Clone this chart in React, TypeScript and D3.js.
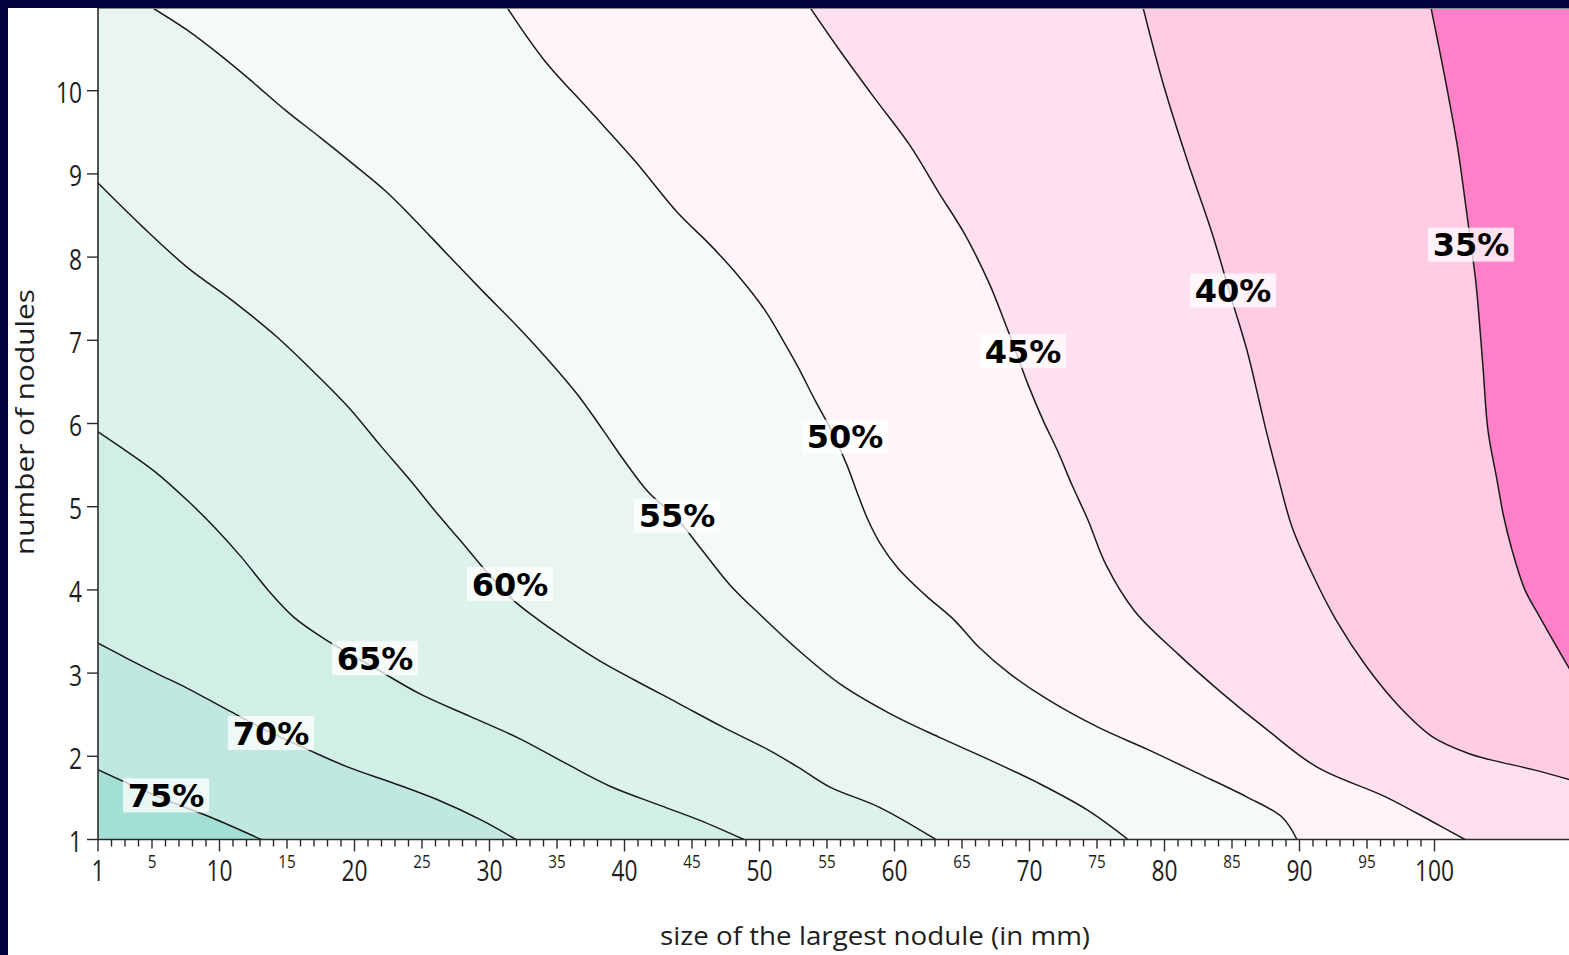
import React from "react";
import * as d3 from "d3";

type Pt = [number, number];

// ---- DATA (x = size of largest nodule in mm, y = number of nodules) ----
const LEVELS = [35, 40, 45, 50, 55, 60, 65, 70, 75];
// band colours: index 0 = below 35%, index i = [LEVELS[i-1], LEVELS[i])
const BAND_COLORS = [
  "#ff82c8", "#ffcce4", "#ffe0ee", "#fff5f9", "#f3faf8",
  "#e8f5f1", "#ddf2ec", "#d1eee7", "#c0e8e0", "#a3dfd4",
];

const iso75: Pt[] = [[1, 1.84], [3, 1.69], [5.96, 1.48], [9.3, 1.27], [13.1, 1]];
const iso70: Pt[] = [[1, 3.36], [3, 3.19], [5.3, 3.0], [7.59, 2.82], [10.56, 2.56], [13.74, 2.29], [16.56, 2.08], [19.52, 1.87], [22.85, 1.68], [26.11, 1.48], [29.44, 1.23], [31.96, 1]];
const iso65: Pt[] = [[1, 5.9], [3, 5.68], [5.3, 5.41], [7.59, 5.08], [9.59, 4.76], [11.59, 4.4], [13.59, 4.0], [15.52, 3.67], [17.89, 3.4], [21.52, 3.06], [24.85, 2.75], [28.56, 2.48], [32.26, 2.21], [35.59, 1.92], [38.93, 1.64], [42.63, 1.41], [45.59, 1.23], [48.85, 1]];
const iso60: Pt[] = [[1, 8.89], [4.33, 8.36], [7.59, 7.88], [10.93, 7.48], [14.26, 7.04], [16.85, 6.64], [19.52, 6.2], [21.89, 5.74], [24.11, 5.32], [26.11, 4.92], [27.81, 4.6], [29.67, 4.24], [31.74, 3.88], [33.37, 3.67], [35.74, 3.4], [38.04, 3.16], [40.7, 2.92], [43.96, 2.64], [47.3, 2.35], [50.63, 2.08], [52.85, 1.87], [55.22, 1.63], [58.85, 1.39], [63.07, 1]];
const iso55: Pt[] = [[5, 11], [7.59, 10.73], [10.26, 10.4], [12.56, 10.09], [14.85, 9.77], [17.52, 9.43], [20.04, 9.1], [22.26, 8.8], [24.26, 8.48], [26.78, 8.05], [29.44, 7.6], [32.11, 7.16], [34.48, 6.74], [36.56, 6.34], [38.41, 5.92], [40.04, 5.54], [41.74, 5.18], [43.81, 4.87], [45.74, 4.48], [47.81, 4.06], [50.19, 3.68], [52.85, 3.28], [55.96, 2.87], [59.59, 2.52], [63.3, 2.23], [67, 1.96], [70.63, 1.68], [74.33, 1.35], [77.3, 1]];
const iso50: Pt[] = [[31.3, 11], [34.04, 10.37], [37.37, 9.77], [40.7, 9.17], [43.96, 8.53], [46.33, 8.15], [48.56, 7.75], [50.41, 7.36], [51.74, 7.0], [52.85, 6.68], [54.11, 6.28], [55.37, 5.9], [56.48, 5.5], [57.3, 5.14], [58.04, 4.84], [58.93, 4.56], [60.26, 4.26], [62.26, 3.94], [64.41, 3.64], [66.26, 3.31], [68.48, 3.0], [71.37, 2.68], [75.07, 2.35], [78.78, 2.08], [82.41, 1.8], [86.11, 1.51], [88.7, 1.27], [89.81, 1]];
const iso45: Pt[] = [[53.74, 11], [55.96, 10.48], [58.48, 9.92], [61.07, 9.36], [63.3, 8.77], [65.15, 8.29], [67, 7.69], [68.04, 7.27], [69.0, 6.86], [69.96, 6.44], [71.0, 6.04], [72.11, 5.66], [73.15, 5.26], [74.33, 4.84], [75.67, 4.3], [77.81, 3.74], [80.93, 3.24], [84.26, 2.76], [87.59, 2.32], [91.3, 1.87], [96.41, 1.51], [99.89, 1.21], [102.26, 1]];
const iso40: Pt[] = [[78.41, 11], [79.89, 10.09], [81.67, 9.17], [83.52, 8.29], [85, 7.48], [86.11, 6.88], [87, 6.28], [87.52, 5.92], [88.33, 5.41], [89.44, 4.76], [90.93, 4.2], [92.7, 3.64], [95.0, 3.07], [97.44, 2.59], [99.89, 2.23], [102.41, 2.04], [104.11, 1.96], [107.3, 1.84], [110, 1.72]];
const iso35: Pt[] = [[99.74, 11], [100.85, 10.09], [101.74, 9.29], [102.33, 8.6], [102.7, 8.15], [103.07, 7.69], [103.59, 6.68], [103.96, 5.92], [104.63, 5.32], [105.1, 4.9], [105.74, 4.48], [106.7, 4.0], [107.81, 3.67], [110, 3.05]];

const ISOLINES: Pt[][] = [iso35, iso40, iso45, iso50, iso55, iso60, iso65, iso70, iso75];

// contour label anchor positions (data units)
const LABEL_X = [102.7, 85.07, 69.52, 56.33, 43.89, 31.52, 21.52, 13.81, 6.04];
const LABEL_Y = [8.15, 7.6, 6.87, 5.84, 4.89, 4.07, 3.18, 2.28, 1.53];

const X_MAJOR = [1, 10, 20, 30, 40, 50, 60, 70, 80, 90, 100];
const X_MINOR_LABELS = [5, 15, 25, 35, 45, 55, 65, 75, 85, 95];
const Y_TICKS = [1, 2, 3, 4, 5, 6, 7, 8, 9, 10];

const X_TITLE = "size of the largest nodule (in mm)";
const Y_TITLE = "number of nodules";

// ---- LAYOUT ----
const W = 1569;
const H = 955;
const X_DOMAIN: [number, number] = [1, 110];
const Y_DOMAIN: [number, number] = [1, 11];
const x = d3.scaleLinear().domain(X_DOMAIN).range([98, 1569.5]);
const y = d3.scaleLinear().domain(Y_DOMAIN).range([839.5, 7.5]);

const AXIS_FONT = "'Open Sans', 'Noto Sans', sans-serif";
const LABEL_FONT = "'DejaVu Sans', sans-serif";

const lineGen = d3
  .line<Pt>()
  .x((d) => x(d[0]))
  .y((d) => y(d[1]))
  .curve(d3.curveCatmullRom.alpha(0.5));

function regionPath(pts: Pt[]): string {
  const first = pts[0];
  const last = pts[pts.length - 1];
  let d = lineGen(pts) || "";
  if (last[0] >= X_DOMAIN[1]) d += `L${x(X_DOMAIN[1])},${y(Y_DOMAIN[0])}`;
  d += `L${x(X_DOMAIN[0])},${y(Y_DOMAIN[0])}`;
  if (first[1] >= Y_DOMAIN[1]) d += `L${x(X_DOMAIN[0])},${y(Y_DOMAIN[1])}`;
  return d + "Z";
}

export default function App() {
  const x0 = x(X_DOMAIN[0]);
  const x1 = x(X_DOMAIN[1]);
  const yb = y(Y_DOMAIN[0]);
  const yt = y(Y_DOMAIN[1]);
  const xTicks = d3.range(1, 101);

  return (
    <svg
      width={W}
      height={H}
      style={{ position: "absolute", left: 0, top: 0, display: "block" }}
    >
      <rect x={0} y={0} width={W} height={H} fill="#02023e" />
      <rect x={8} y={8} width={W - 8} height={H - 8} fill="#ffffff" />
      <defs>
        <clipPath id="plotclip">
          <rect x={x0} y={8} width={x1 - x0} height={yb - 8} />
        </clipPath>
      </defs>

      <g clipPath="url(#plotclip)">
        <rect x={x0} y={yt} width={x1 - x0} height={yb - yt} fill={BAND_COLORS[0]} />
        {ISOLINES.map((pts, i) => (
          <path key={"f" + i} d={regionPath(pts)} fill={BAND_COLORS[i + 1]} stroke="none" />
        ))}
        {ISOLINES.map((pts, i) => (
          <path key={"l" + i} d={lineGen(pts) || ""} fill="none" stroke="#1a1a1a" strokeWidth={1.5} />
        ))}
        <line x1={x0} x2={x1} y1={8.5} y2={8.5} stroke="#8a8a8a" strokeWidth={1} />
      </g>

      {/* contour labels */}
      {LEVELS.map((lv, i) => {
        const cx = x(LABEL_X[i]);
        const cy = y(LABEL_Y[i]);
        return (
          <g key={"lab" + lv}>
            <rect x={cx - 43} y={cy - 17} width={86} height={34} fill="#ffffff" fillOpacity={0.75} />
            <text
              x={cx}
              y={cy + 11.5}
              textAnchor="middle"
              fontFamily={LABEL_FONT}
              fontWeight="bold"
              fontSize={32}
              fill="#000"
            >
              {lv}%
            </text>
          </g>
        );
      })}

      {/* axes */}
      <line x1={x0} x2={x0} y1={8} y2={yb} stroke="#2a2a2a" strokeWidth={1.6} />
      <line x1={x0} x2={x1} y1={yb} y2={yb} stroke="#2a2a2a" strokeWidth={1.6} />

      {xTicks.map((v) => {
        const len = v === 1 || v % 10 === 0 ? 12 : v % 5 === 0 ? 9 : 7;
        return (
          <line key={"xt" + v} x1={x(v)} x2={x(v)} y1={yb} y2={yb + len} stroke="#2a2a2a" strokeWidth={1.4} />
        );
      })}
      {X_MAJOR.map((v) => (
        <text
          key={"xl" + v}
          transform={`translate(${x(v)},${881}) scale(0.76,1)`}
          textAnchor="middle"
          fontFamily={AXIS_FONT}
          fontSize={30}
          fill="#1e1e1e"
        >
          {v}
        </text>
      ))}
      {X_MINOR_LABELS.map((v) => (
        <text
          key={"xm" + v}
          transform={`translate(${x(v)},${868}) scale(0.8,1)`}
          textAnchor="middle"
          fontFamily={AXIS_FONT}
          fontSize={19}
          fill="#1e1e1e"
        >
          {v}
        </text>
      ))}

      {Y_TICKS.map((v) => (
        <g key={"yt" + v}>
          <line x1={x0 - 11} x2={x0} y1={y(v)} y2={y(v)} stroke="#2a2a2a" strokeWidth={1.4} />
          <text
            transform={`translate(${x0 - 16},${y(v) + 12.5}) scale(0.76,1)`}
            textAnchor="end"
            fontFamily={AXIS_FONT}
            fontSize={30}
            fill="#1e1e1e"
          >
            {v}
          </text>
        </g>
      ))}

      <text
        x={875}
        y={945}
        textAnchor="middle"
        fontFamily={AXIS_FONT}
        fontSize={25}
        fill="#1e1e1e"
        textLength={430}
        lengthAdjust="spacingAndGlyphs"
      >
        {X_TITLE}
      </text>
      <text
        transform={`translate(34,${422}) rotate(-90)`}
        textAnchor="middle"
        fontFamily={AXIS_FONT}
        fontSize={26}
        fill="#1e1e1e"
        textLength={266}
        lengthAdjust="spacingAndGlyphs"
      >
        {Y_TITLE}
      </text>
    </svg>
  );
}
